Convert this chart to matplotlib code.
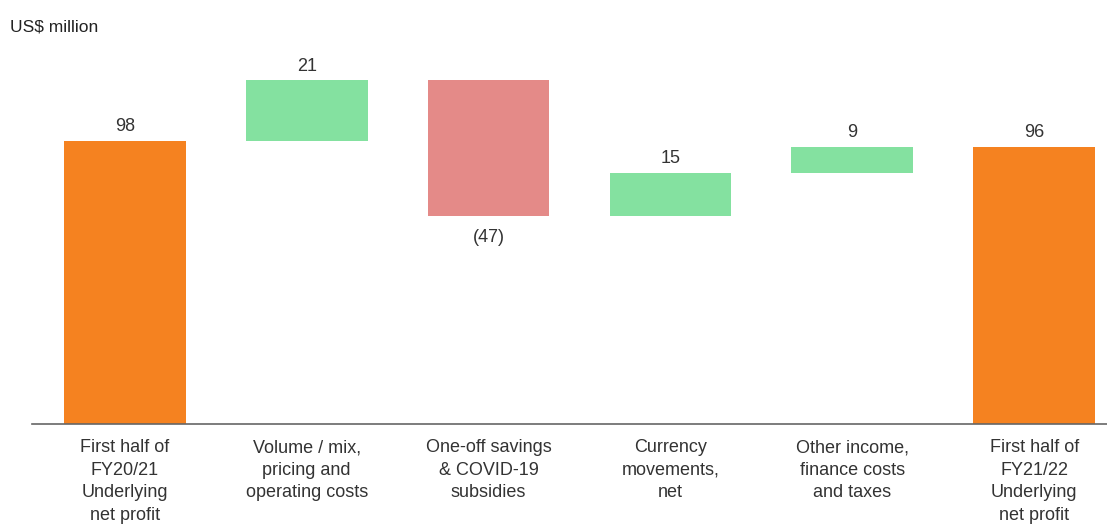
import matplotlib
matplotlib.use("Agg")
import matplotlib.pyplot as plt

plt.rcParams['font.family'] = ['Liberation Sans', 'DejaVu Sans']

categories = ["First half of\nFY20/21\nUnderlying\nnet profit",
              "Volume / mix,\npricing and\noperating costs",
              "One-off savings\n& COVID-19\nsubsidies",
              "Currency\nmovements,\nnet",
              "Other income,\nfinance costs\nand taxes",
              "First half of\nFY21/22\nUnderlying\nnet profit"]
values = [98, 21, -47, 15, 9, 96]
kinds = ["total", "delta", "delta", "delta", "delta", "total"]
value_labels = ["98", "21", "(47)", "15", "9", "96"]

ORANGE = "#F58220"
GREEN = "#84E1A0"
RED = "#E48A88"
TEXT = "#333333"

W, H = 1107, 527
fig = plt.figure(figsize=(W/100, H/100), dpi=100)
ax_left, ax_bottom_px = 32, 424
ax_top_px = 20
ax = fig.add_axes([ax_left/W, (H-ax_bottom_px)/H, 1 - ax_left/W, (ax_bottom_px-ax_top_px)/H])
scale = 2.888  # px per unit
ax.set_ylim(0, (ax_bottom_px-ax_top_px)/scale)
ax.set_xlim(-0.51, 5.40)

running = 0
fs = 13
for i, (v, k, lab) in enumerate(zip(values, kinds, value_labels)):
    if k == "total":
        bottom, height, color = 0, v, ORANGE
        running = v
    else:
        bottom = running if v >= 0 else running + v
        height = abs(v)
        color = GREEN if v >= 0 else RED
        running += v
    ax.bar(i, height, bottom=bottom, width=0.67, color=color, edgecolor='none')
    if v >= 0:
        ax.text(i, bottom + height + 2.0, lab, ha='center', va='bottom', fontsize=fs, color=TEXT)
    else:
        ax.text(i, bottom - 4.5, lab, ha='center', va='top', fontsize=fs, color=TEXT)

ax.set_xticks(range(len(categories)))
ax.set_xticklabels(categories, fontsize=fs, color=TEXT, linespacing=1.42)
ax.tick_params(axis='x', length=0, pad=11)
ax.set_yticks([])
for s in ['top', 'right', 'left']:
    ax.spines[s].set_visible(False)
ax.spines['bottom'].set_color('#666666')
ax.spines['bottom'].set_linewidth(1.2)

fig.text(10/W, 1 - 27/H, "US$ million", fontsize=12.5, color='#222222', ha='left', va='center')

fig.savefig("out.png", dpi=100)
